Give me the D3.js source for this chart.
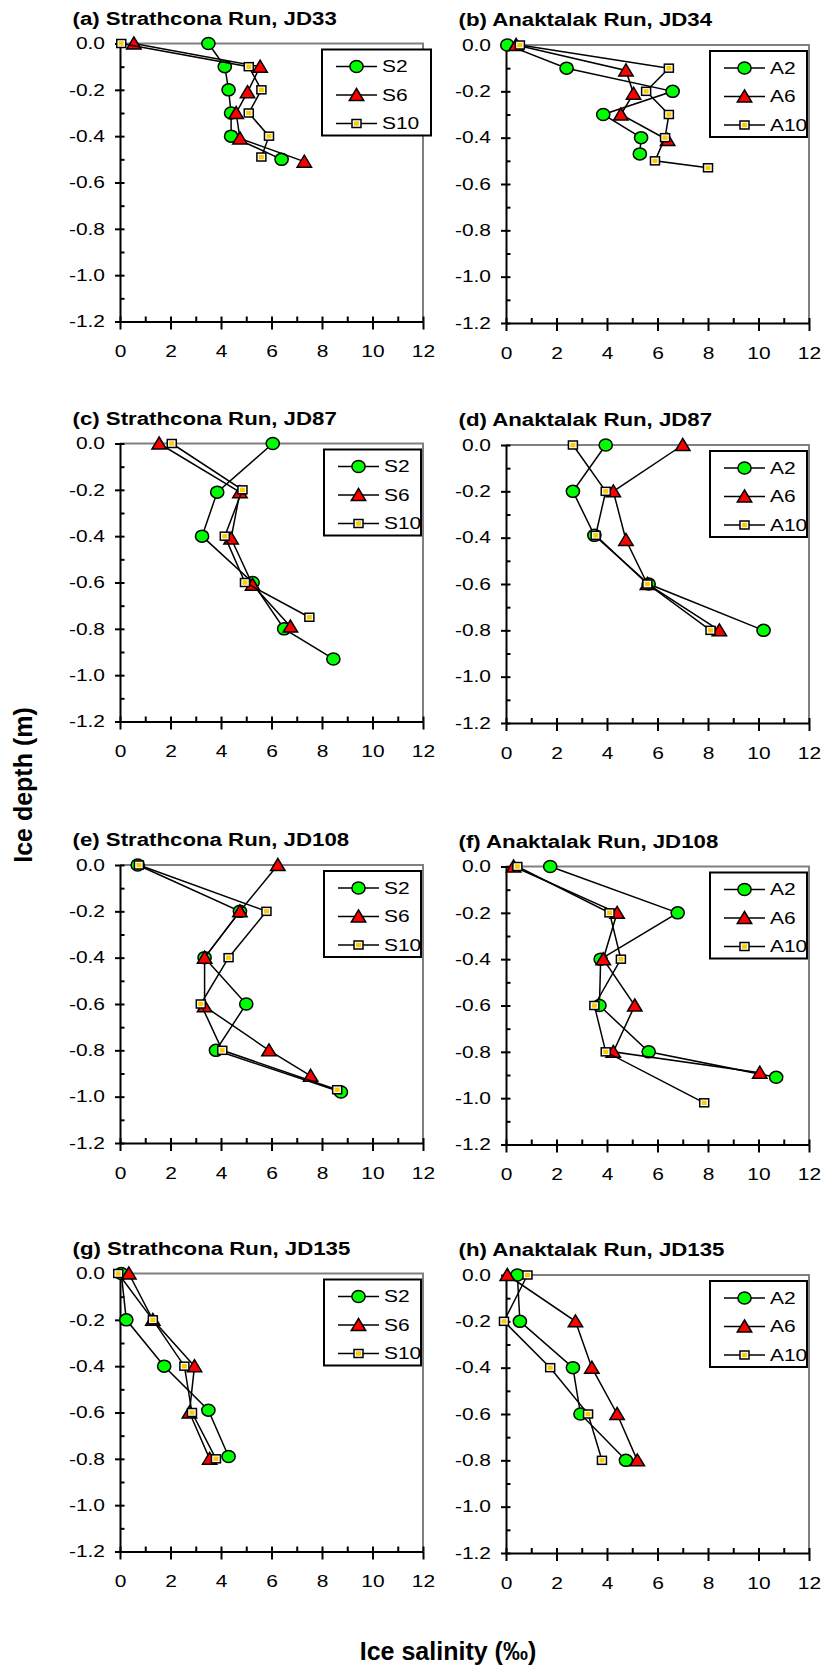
<!DOCTYPE html>
<html>
<head>
<meta charset="utf-8">
<title>Ice salinity profiles</title>
<script src="https://cdn.jsdelivr.net/npm/d3@7"></script>
<style>
	body { margin: 0; background: #fff; }
	svg { display: block; font-family: Arial, "Liberation Sans", sans-serif; }
	.axis .domain { stroke: #000; stroke-width: 2px; }
	.axis line { stroke: #000; stroke-width: 2px; }
	.axis text { font-size: 16.5px; fill: #000; font-family: Arial, "Liberation Sans", sans-serif; }
	.frame { stroke: #808080; stroke-width: 2px; fill: none; }
	.profile { fill: none; stroke: #000; stroke-width: 1.5px; }
	.panel-title { font-size: 17.5px; font-weight: bold; }
	.axis-title { font-size: 25px; font-weight: bold; }
	.legend-box { fill: #fff; stroke: #000; stroke-width: 2px; }
	.legend text { font-size: 16.5px; }
</style>
</head>
<body>
<div id="chart"></div>
<script>

// tick labels
const xTicks = [0, 2, 4, 6, 8, 10, 12];
const yTicks = [0, -0.2, -0.4, -0.6, -0.8, -1.0, -1.2];

const stationsS = ["S2", "S6", "S10"];
const stationsA = ["A2", "A6", "A10"];

const panelTitles = [
	"(a) Strathcona Run, JD33", "(b) Anaktalak Run, JD34",
	"(c) Strathcona Run, JD87", "(d) Anaktalak Run, JD87",
	"(e) Strathcona Run, JD108", "(f) Anaktalak Run, JD108",
	"(g) Strathcona Run, JD135", "(h) Anaktalak Run, JD135"
];

// [salinity (permil), depth (m)]
const jd33_S2 = [[3.5, 0], [4.15, -0.1], [4.3, -0.2], [4.4, -0.3], [4.4, -0.4], [6.4, -0.5]];
const jd33_S6 = [[0.55, 0], [5.55, -0.1], [5.05, -0.21], [4.6, -0.3], [4.75, -0.41], [7.3, -0.51]];
const jd33_S10 = [[0.05, 0], [5.1, -0.1], [5.6, -0.2], [5.1, -0.3], [5.9, -0.4], [5.6, -0.49]];

const jd34_A2 = [[0.05, 0], [2.4, -0.1], [6.6, -0.2], [3.85, -0.3], [5.35, -0.4], [5.3, -0.47]];
const jd34_A6 = [[0.4, 0], [4.75, -0.11], [5.05, -0.21], [4.55, -0.3], [6.4, -0.41]];
const jd34_A10 = [[0.55, 0], [6.45, -0.1], [5.55, -0.2], [6.45, -0.3], [6.3, -0.4], [5.9, -0.5], [8.0, -0.53]];

const jd87_S2 = [[6.05, 0], [3.85, -0.21], [3.25, -0.4], [5.25, -0.6], [6.5, -0.8], [8.45, -0.93]];
const jd87_S6 = [[1.55, 0], [4.75, -0.21], [4.4, -0.41], [5.25, -0.61], [6.75, -0.79]];
const jd87_S10 = [[2.05, 0], [4.85, -0.2], [4.15, -0.4], [4.95, -0.6], [7.5, -0.75]];

const jd87_A2 = [[3.95, 0], [2.65, -0.2], [3.5, -0.39], [5.65, -0.6], [10.2, -0.8]];
const jd87_A6 = [[7.0, 0], [4.25, -0.2], [4.75, -0.41], [5.6, -0.6], [8.45, -0.8]];
const jd87_A10 = [[2.65, 0], [3.95, -0.2], [3.55, -0.39], [5.6, -0.6], [8.1, -0.8]];

const jd108_S2 = [[0.7, 0], [4.75, -0.2], [3.35, -0.4], [5.0, -0.6], [3.8, -0.8], [8.75, -0.98]];
const jd108_S6 = [[6.25, 0], [4.75, -0.2], [3.35, -0.4], [3.35, -0.61], [5.9, -0.8], [7.55, -0.91]];
const jd108_S10 = [[0.75, 0], [5.8, -0.2], [4.3, -0.4], [3.2, -0.6], [4.05, -0.8], [8.6, -0.97]];

const jd108_A2 = [[1.75, 0], [6.8, -0.2], [3.75, -0.4], [3.7, -0.6], [5.65, -0.8], [10.7, -0.91]];
const jd108_A6 = [[0.3, 0], [4.4, -0.2], [3.85, -0.4], [5.1, -0.6], [4.25, -0.8], [10.05, -0.89]];
const jd108_A10 = [[0.45, 0], [4.1, -0.2], [4.55, -0.4], [3.5, -0.6], [3.95, -0.8], [7.85, -1.02]];

const jd135_S2 = [[0.05, 0], [0.25, -0.2], [1.75, -0.4], [3.5, -0.59], [4.3, -0.79]];
const jd135_S6 = [[0.35, 0], [1.3, -0.2], [2.95, -0.4], [2.75, -0.6], [3.55, -0.8]];
const jd135_S10 = [[-0.07, 0], [1.3, -0.2], [2.55, -0.4], [2.85, -0.6], [3.8, -0.8]];

const jd135_A2 = [[0.45, 0], [0.55, -0.2], [2.65, -0.4], [2.95, -0.6], [4.75, -0.8]];
const jd135_A6 = [[0.05, 0], [2.75, -0.2], [3.4, -0.4], [4.4, -0.6], [5.2, -0.8]];
const jd135_A10 = [[0.85, 0], [-0.08, -0.2], [1.75, -0.4], [3.25, -0.6], [3.8, -0.8]];

const panelSeries = [
	[jd33_S2, jd33_S6, jd33_S10], [jd34_A2, jd34_A6, jd34_A10],
	[jd87_S2, jd87_S6, jd87_S10], [jd87_A2, jd87_A6, jd87_A10],
	[jd108_S2, jd108_S6, jd108_S10], [jd108_A2, jd108_A6, jd108_A10],
	[jd135_S2, jd135_S6, jd135_S10], [jd135_A2, jd135_A6, jd135_A10]
];

// page layout
const layout = {
	colLeft: [120, 506],
	rowTop: [43.5, 443.5, 865, 1273.5],
	width: 303,
	height: 278,
	stretch: 1.27	// the panels in the figure are stretched sideways
};

// move a text's x/y into a transform so it can be widened around its anchor
function stretchText(sel) {
	sel.each(function () {
		let t = d3.select(this);
		let x = +t.attr("x") || 0, y = +t.attr("y") || 0;
		t.attr("x", 0).attr("y", 0)
			.attr("transform", "translate(" + x + "," + y + ") scale(" + layout.stretch + ",1)");
	});
}


class ProfileChart {

	constructor(svg, config) {
		this.svg = svg;
		this.config = config;
		this.initVis();
	}

	initVis() {
		let vis = this;

		vis.width = layout.width;
		vis.height = layout.height;

		vis.g = vis.svg.append("g")
			.attr("transform", "translate(" + vis.config.left + "," + vis.config.top + ")");

		vis.x = d3.scaleLinear().domain([0, 12]).range([0, vis.width]);
		vis.y = d3.scaleLinear().domain([-1.2, 0]).range([vis.height, 0]);

		// gray frame on top and right
		vis.g.append("path")
			.attr("class", "frame")
			.attr("d", "M0,0H" + vis.width + "V" + vis.height);

		// minor + inner ticks
		vis.g.append("g")
			.attr("class", "axis")
			.attr("transform", "translate(0," + vis.height + ")")
			.call(d3.axisTop(vis.x).tickValues(d3.range(0, 13, 1)).tickSize(5).tickFormat(""))
			.call(g => g.select(".domain").remove());

		vis.g.append("g")
			.attr("class", "axis")
			.call(d3.axisRight(vis.y).tickValues(d3.range(-12, 1).map(d => d / 10)).tickSize(4.5).tickFormat(""))
			.call(g => g.select(".domain").remove());

		vis.xAxis = d3.axisBottom(vis.x)
			.tickValues(xTicks)
			.tickSizeInner(8)
			.tickSizeOuter(0)
			.tickPadding(16);

		vis.yAxis = d3.axisLeft(vis.y)
			.tickValues(yTicks)
			.tickSizeInner(5)
			.tickSizeOuter(0)
			.tickPadding(10)
			.tickFormat(d => d.toFixed(1));

		vis.g.append("g")
			.attr("class", "axis x-axis")
			.attr("transform", "translate(0," + vis.height + ")")
			.call(vis.xAxis);

		vis.g.append("g")
			.attr("class", "axis y-axis")
			.call(vis.yAxis);

		vis.g.selectAll(".x-axis text, .y-axis text").call(stretchText);

		vis.g.append("text")
			.attr("class", "panel-title")
			.attr("x", -47.5)
			.attr("y", -19)
			.text(vis.config.title)
			.call(stretchText);

		vis.line = d3.line()
			.x(d => vis.x(d[0]))
			.y(d => vis.y(d[1]));

		vis.updateVis();
	}

	drawMarker(sel, kind) {
		if (kind === 0) {
			sel.append("ellipse")
				.attr("rx", 6.6)
				.attr("ry", 6)
				.attr("fill", "#00ff00")
				.attr("stroke", "#000")
				.attr("stroke-width", 1.5);
		} else if (kind === 1) {
			sel.append("path")
				.attr("d", "M0,-6.5L7.2,5.5L-7.2,5.5Z")
				.attr("fill", "#ff0000")
				.attr("stroke", "#000")
				.attr("stroke-width", 1.5);
		} else {
			sel.append("rect")
				.attr("x", -4.5).attr("y", -4)
				.attr("width", 9).attr("height", 8)
				.attr("fill", "#fff")
				.attr("stroke", "#000")
				.attr("stroke-width", 1.5);
			sel.append("rect")
				.attr("x", -2.5).attr("y", -2.2)
				.attr("width", 5).attr("height", 4.4)
				.attr("fill", "#ffcc00");
		}
	}

	updateVis() {
		let vis = this;

		vis.config.series.forEach((data, i) => {
			let sg = vis.g.append("g").attr("class", "series");

			sg.append("path")
				.datum(data)
				.attr("class", "profile")
				.attr("d", vis.line);

			sg.selectAll(".pt")
				.data(data)
				.enter().append("g")
				.attr("class", "pt")
				.attr("transform", d => "translate(" + vis.x(d[0]) + "," + vis.y(d[1]) + ")")
				.each(function () { vis.drawMarker(d3.select(this), i); });
		});

		// legend
		let legend = vis.g.append("g")
			.attr("class", "legend")
			.attr("transform", "translate(" + vis.config.legendX + ",6)");

		legend.append("rect")
			.attr("class", "legend-box")
			.attr("width", vis.config.legendW)
			.attr("height", 86);

		vis.config.names.forEach((name, i) => {
			let row = legend.append("g")
				.attr("transform", "translate(0," + (17 + i * 28.5) + ")");
			row.append("line")
				.attr("x1", 14).attr("x2", 55)
				.attr("stroke", "#000").attr("stroke-width", 1.5);
			vis.drawMarker(row.append("g").attr("transform", "translate(34.5,0)"), i);
			row.append("text")
				.attr("x", 60)
				.attr("dy", "0.36em")
				.text(name)
				.call(stretchText);
		});
	}
}


let svg = d3.select("#chart").append("svg")
	.attr("width", 822)
	.attr("height", 1669);

panelTitles.forEach((title, i) => {
	let col = i % 2, row = Math.floor(i / 2);
	new ProfileChart(svg, {
		title: title,
		names: col === 0 ? stationsS : stationsA,
		series: panelSeries[i],
		left: layout.colLeft[col],
		top: layout.rowTop[row] + (col === 1 ? 1.5 : 0),
		legendX: i === 0 ? 202 : 204,
		legendW: i === 0 ? 109 : 97
	});
});

// shared axis titles
svg.append("text")
	.attr("class", "axis-title")
	.attr("text-anchor", "middle")
	.attr("transform", "translate(32,785) rotate(-90)")
	.text("Ice depth (m)");

svg.append("text")
	.attr("class", "axis-title")
	.attr("text-anchor", "middle")
	.attr("x", 448)
	.attr("y", 1660)
	.text("Ice salinity (‰)");

</script>
</body>
</html>
